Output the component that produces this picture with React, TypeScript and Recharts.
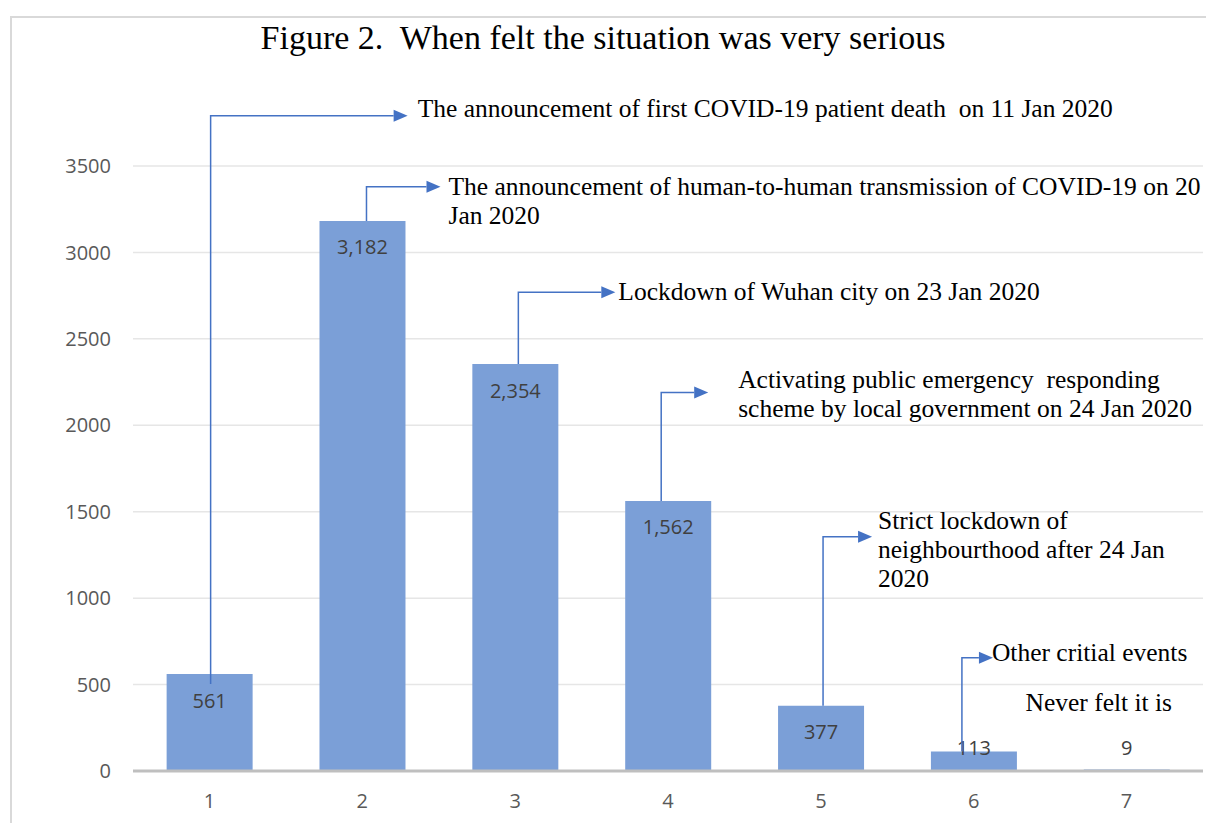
import { Bar, BarChart, CartesianGrid, LabelList, XAxis, YAxis } from "recharts";

const CATEGORIES = ["1", "2", "3", "4", "5", "6", "7"];
const COUNTS = [561, 3182, 2354, 1562, 377, 113, 9];
const Y_TICKS = [0, 500, 1000, 1500, 2000, 2500, 3000, 3500];

// annotation text per bar, and the value level its elbow arrow runs at
const EVENT_LINES = [
  ["The announcement of first COVID-19 patient death  on 11 Jan 2020"],
  ["The announcement of human-to-human transmission of COVID-19 on 20", "Jan 2020"],
  ["Lockdown of Wuhan city on 23 Jan 2020"],
  ["Activating public emergency  responding", "scheme by local government on 24 Jan 2020"],
  ["Strict lockdown of", "neighbourthood after 24 Jan", "2020"],
  ["Other critial events"],
  ["Never felt it is"],
];
const EVENT_LEVELS = [3790, 3380, 2770, 2190, 1355, 655, 395];

// pixel tweaks for the connectors (Excel elbow arrows were hand placed)
const EVENT_LAYOUT = [
  { dx: 1, tip: 198, gap: 10, textDy: -7, startDy: 10 },
  { dx: 4, tip: 78, gap: 8, textDy: 0, startDy: 0 },
  { dx: 3, tip: 100, gap: 3, textDy: -1, startDy: 0 },
  { dx: -7, tip: 40, gap: 30, textDy: -13, startDy: 0 },
  { dx: 2, tip: 51, gap: 6, textDy: -16, startDy: 0 },
  { dx: -12, tip: 19, gap: -1, textDy: -5, startDy: 0 },
  { textOnly: true, textDx: -28 },
];

const W = 1206;
const H = 823;
const Y_MAX = 3500;
const MARGIN = { top: 166, right: 3, bottom: 22, left: 0 };
const X_AXIS_H = 30;
const PLOT_H = H - MARGIN.top - MARGIN.bottom - X_AXIS_H;

const BAR_FILL = "#7b9fd7";
const ARROW = "#4472c4";
const SANS = "'Open Sans', 'Noto Sans', sans-serif";
const SERIF = "'Liberation Serif', 'Times New Roman', serif";
const LINE_H = 29;

const data = CATEGORIES.map((cat, i) => ({ cat, count: COUNTS[i] }));

function ValueLabel(props: any) {
  const { x, y, width, height, value } = props;
  const base = y + height;
  const cy = Math.min(y + 26, base - 24);
  return (
    <text x={x + width / 2} y={cy} textAnchor="middle" dominantBaseline="central"
      fontFamily={SANS} fontSize={20} fill="#404040">
      {Number(value).toLocaleString("en-US")}
    </text>
  );
}

function EventLabel(props: any) {
  const { x, y, width, height, index } = props;
  const lines = EVENT_LINES[index];
  const lay: any = EVENT_LAYOUT[index];
  if (!lines || !lay) return null;
  const cx = x + width / 2;
  const base = y + height;
  const levelY = base - (EVENT_LEVELS[index] / Y_MAX) * PLOT_H;

  const textProps = {
    fontFamily: SERIF,
    fontSize: 25.5,
    fill: "#000",
    dominantBaseline: "central" as const,
    style: { whiteSpace: "pre" as const },
  };

  if (lay.textOnly) {
    return (
      <g>
        {lines.map((ln: string, k: number) => (
          <text key={k} x={cx + lay.textDx} y={levelY + k * LINE_H} textAnchor="middle" {...textProps}>
            {ln}
          </text>
        ))}
      </g>
    );
  }

  const lx = cx + lay.dx;
  const tipX = cx + lay.tip;
  const headLen = 14;
  const headHalf = 6;
  return (
    <g>
      <path d={`M${lx},${y + lay.startDy}V${levelY}H${tipX - headLen}`} fill="none" stroke={ARROW} strokeWidth={1.5} />
      <polygon
        points={`${tipX},${levelY} ${tipX - headLen},${levelY - headHalf} ${tipX - headLen},${levelY + headHalf}`}
        fill={ARROW}
      />
      {lines.map((ln: string, k: number) => (
        <text key={k} x={tipX + lay.gap} y={levelY + lay.textDy + k * LINE_H} textAnchor="start" {...textProps}>
          {ln}
        </text>
      ))}
    </g>
  );
}

export default function App() {
  return (
    <div style={{ position: "absolute", left: 0, top: 0, width: W, height: H, overflow: "hidden", background: "#fff" }}>
      <div
        style={{
          position: "absolute",
          left: 10,
          top: 16,
          width: W,
          height: H,
          borderLeft: "2px solid #d9d9d9",
          borderTop: "2px solid #d9d9d9",
        }}
      />
      <div
        style={{
          position: "absolute",
          left: 0,
          top: 18,
          width: W,
          lineHeight: "40px",
          textAlign: "center",
          fontFamily: SERIF,
          fontSize: 34,
          color: "#000",
          whiteSpace: "pre",
        }}
      >
        {"Figure 2.  When felt the situation was very serious"}
      </div>
      <div style={{ position: "absolute", left: 0, top: 0 }}>
        <BarChart width={W} height={H} data={data} margin={MARGIN} barCategoryGap="22%">
          <CartesianGrid vertical={false} stroke="#e6e6e6" strokeWidth={1.5} />
          <XAxis
            dataKey="cat"
            height={X_AXIS_H}
            axisLine={{ stroke: "#bfbfbf", strokeWidth: 3 }}
            tickLine={false}
            tickSize={0}
            tickMargin={23}
            tick={{ fontFamily: SANS, fontSize: 20, fill: "#595959" }}
          />
          <YAxis
            width={133}
            domain={[0, Y_MAX]}
            ticks={Y_TICKS}
            axisLine={false}
            tickLine={false}
            tickSize={0}
            tickMargin={22}
            tick={{ fontFamily: SANS, fontSize: 20, fill: "#595959" }}
          />
          <Bar dataKey="count" fill={BAR_FILL} isAnimationActive={false}>
            <LabelList dataKey="count" content={ValueLabel} />
            <LabelList dataKey="count" content={EventLabel} />
          </Bar>
        </BarChart>
      </div>
    </div>
  );
}
